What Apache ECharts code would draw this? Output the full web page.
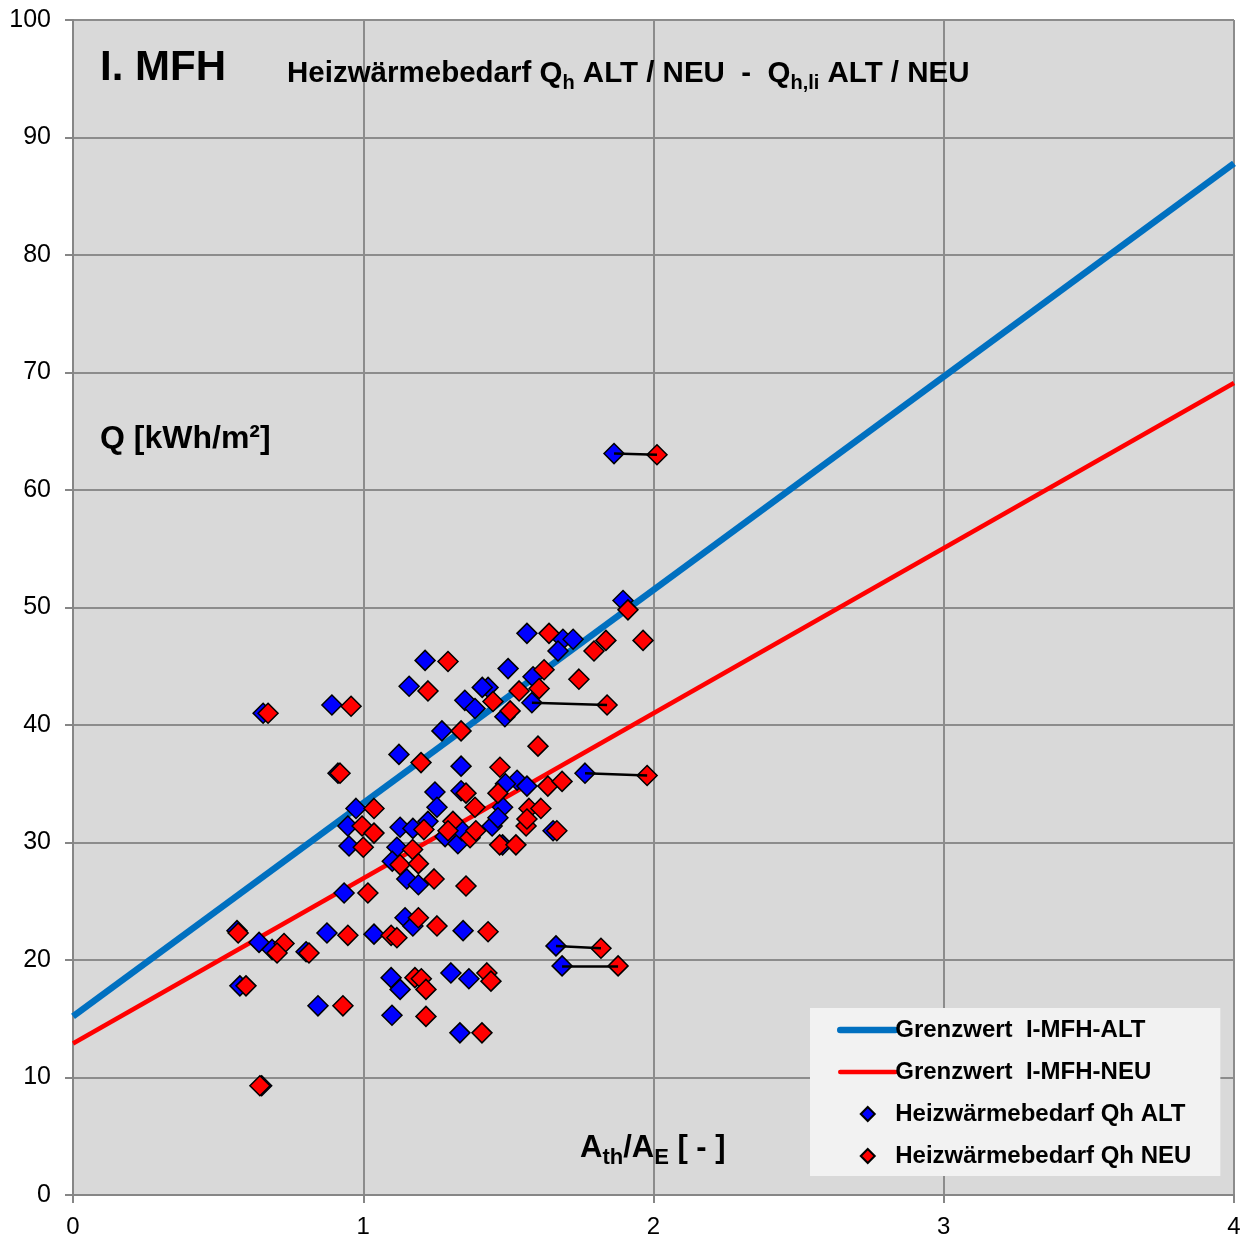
<!DOCTYPE html>
<html>
<head>
<meta charset="utf-8">
<script src="https://cdn.jsdelivr.net/npm/echarts@6/dist/echarts.min.js"></script>
<style>
html,body{margin:0;padding:0;background:#fff;}
#chart{width:1245px;height:1239px;}
</style>
</head>
<body>
<div id="chart"></div>
<script>
// Axis ticks
const xTicks = [0, 1, 2, 3, 4];
const yTicks = [0, 10, 20, 30, 40, 50, 60, 70, 80, 90, 100];

// Limit lines (Grenzwert) endpoints at x = 0 and x = 4
const grenzAlt = [[0, 15.2], [4, 87.8]];
const grenzNeu = [[0, 12.9], [4, 69.1]];

// Heizwärmebedarf Qh ALT  [A/V, Q]
const qhAlt = [
  [0.655,41.0],[0.892,41.7],[1.213,45.5],[1.158,43.3],[1.271,39.5],[1.123,37.5],
  [0.913,35.9],[0.975,32.9],[1.247,34.3],[1.254,33.0],[0.947,31.4],[1.127,31.3],
  [1.171,31.2],[1.223,31.8],[0.951,29.7],[1.116,29.6],[1.100,28.4],[1.150,26.9],
  [1.190,26.4],[0.934,25.7],[1.144,23.6],[1.171,22.9],[0.565,22.5],[0.875,22.3],
  [1.037,22.2],[0.641,21.5],[0.686,20.9],[0.803,20.7],[0.575,17.8],[0.844,16.1],
  [1.096,18.5],[1.127,17.5],[1.099,15.3],[1.333,13.8],[0.650,9.3],[1.302,18.9],
  [1.364,18.4],[1.344,22.5],[1.664,21.2],[1.685,19.5],[1.480,33.0],[1.444,31.4],
  [1.282,30.5],[1.326,29.9],[1.480,29.8],[1.654,31.0],[1.895,50.6],[1.564,47.8],
  [1.688,47.3],[1.723,47.3],[1.671,46.3],[1.499,44.8],[1.585,44.1],[1.430,43.2],
  [1.410,43.2],[1.350,42.1],[1.385,41.4],[1.581,41.9],[1.488,40.7],[1.337,36.5],
  [1.764,35.9],[1.530,35.3],[1.490,35.0],[1.564,34.8],[1.864,63.1],[1.340,31.0],
  [1.464,32.1],[1.337,34.4]
];

// Heizwärmebedarf Qh NEU  [A/V, Q]
const qhNeu = [
  [0.672,41.0],[0.958,41.6],[1.292,45.4],[1.223,42.9],[1.337,39.5],[1.199,36.8],
  [0.920,35.9],[1.037,32.9],[1.354,34.2],[0.996,31.4],[1.037,30.8],[1.209,31.1],
  [1.000,29.6],[1.170,29.4],[1.127,28.1],[1.190,28.2],[1.244,26.9],[1.016,25.7],
  [1.190,23.6],[1.254,22.9],[0.569,22.3],[0.947,22.1],[1.096,22.1],[1.116,21.9],
  [0.727,21.4],[0.703,20.6],[0.813,20.6],[0.596,17.8],[0.930,16.1],[1.178,18.5],
  [1.200,18.4],[1.216,17.5],[1.216,15.2],[1.409,13.8],[0.644,9.3],[1.426,18.9],
  [1.440,18.2],[1.354,26.3],[1.430,22.4],[1.819,21.0],[1.878,19.5],[1.385,33.0],
  [1.309,31.8],[1.292,31.0],[1.368,30.4],[1.388,31.0],[1.470,29.8],[1.526,29.8],
  [1.571,32.9],[1.612,32.9],[1.561,31.4],[1.667,31.0],[1.464,34.2],[1.912,49.8],
  [1.640,47.8],[1.836,47.2],[1.964,47.2],[1.795,46.3],[1.623,44.7],[1.743,43.9],
  [1.606,43.1],[1.537,42.9],[1.447,42.0],[1.840,41.7],[1.506,41.2],[1.602,38.2],
  [1.471,36.4],[1.978,35.7],[1.636,34.8],[1.685,35.2],[2.012,63.0],[1.564,32.0]
];

// Connected ALT -> NEU pairs
const pairs = [
  [[1.864,63.1],[2.012,63.0]],
  [[1.581,41.9],[1.840,41.7]],
  [[1.764,35.9],[1.978,35.7]],
  [[1.664,21.2],[1.819,21.0]],
  [[1.685,19.5],[1.878,19.5]]
];

const legendNames = ['Grenzwert  I-MFH-ALT','Grenzwert  I-MFH-NEU','Heizwärmebedarf Qh ALT','Heizwärmebedarf Qh NEU'];

const FONT = '"Liberation Sans", Arial, sans-serif';
const DIAMOND = 'path://M0,-1L1,0L0,1L-1,0Z';
const chart = echarts.init(document.getElementById('chart'), null, {renderer:'canvas'});

chart.setOption({
  backgroundColor: '#ffffff',
  animation: false,
  grid: {left: 73, right: 11, top: 20, bottom: 40, show: true, backgroundColor: '#D9D9D9', borderWidth: 0},
  xAxis: {
    type: 'value', min: xTicks[0], max: xTicks[xTicks.length-1], interval: 1,
    axisLine: {show: true, lineStyle: {color: '#868686', width: 2}},
    axisTick: {show: true, length: 8, lineStyle: {color: '#868686', width: 2}},
    axisLabel: {color: '#000', fontSize: 24, fontFamily: FONT, margin: 20},
    splitLine: {show: true, lineStyle: {color: '#8C8C8C', width: 2}}
  },
  yAxis: {
    type: 'value', min: yTicks[0], max: yTicks[yTicks.length-1], interval: 10,
    axisLine: {show: true, lineStyle: {color: '#868686', width: 2}},
    axisTick: {show: true, length: 8, lineStyle: {color: '#868686', width: 2}},
    axisLabel: {color: '#000', fontSize: 25, fontFamily: FONT, margin: 22},
    splitLine: {show: true, lineStyle: {color: '#8C8C8C', width: 2}}
  },
  legend: {
    orient: 'vertical', left: 810, top: 1008,
    backgroundColor: '#F2F2F2', padding: [10, 29, 8, 27],
    itemWidth: 55, itemHeight: 14, itemGap: 18,
    symbolKeepAspect: true,
    textStyle: {fontFamily: FONT, fontWeight: 'bold', fontSize: 24, color: '#000', padding: [0,0,0,-5]},
    data: [
      {name: legendNames[0], itemStyle: {opacity: 0}, lineStyle: {width: 6.5, color: '#0070C0', cap: 'round'}},
      {name: legendNames[1], itemStyle: {opacity: 0}, lineStyle: {width: 4.5, color: '#FF0000', cap: 'round'}},
      {name: legendNames[2], icon: DIAMOND},
      {name: legendNames[3], icon: DIAMOND}
    ]
  },
  graphic: [
    {type: 'text', left: 100, top: 47, z: 100,
     style: {text: 'I. MFH', fontFamily: FONT, fontWeight: 'bold', fontSize: 42, fill: '#000'}},
    {type: 'text', left: 287, top: 59, z: 100,
     style: {
       text: '{b|Heizwärmebedarf Q}{s|h}{b| ALT / NEU  -  Q}{s|h,li}{b| ALT / NEU}',
       fill: '#000',
       rich: {
         b: {fontFamily: FONT, fontWeight: 'bold', fontSize: 29.5, lineHeight: 35, fill: '#000', verticalAlign: 'top'},
         s: {fontFamily: FONT, fontWeight: 'bold', fontSize: 20, lineHeight: 35, fill: '#000', verticalAlign: 'top', padding: [14,0,0,0]}
       }
     }},
    {type: 'text', left: 100, top: 423, z: 100,
     style: {text: 'Q [kWh/m²]', fontFamily: FONT, fontWeight: 'bold', fontSize: 32, fill: '#000'}},
    {type: 'text', left: 580, top: 1133, z: 100,
     style: {
       text: '{b|A}{s|th}{b|/A}{s|E}{b| [ - ]}',
       fill: '#000',
       rich: {
         b: {fontFamily: FONT, fontWeight: 'bold', fontSize: 31, lineHeight: 37, fill: '#000', verticalAlign: 'top'},
         s: {fontFamily: FONT, fontWeight: 'bold', fontSize: 22, lineHeight: 37, fill: '#000', verticalAlign: 'top', padding: [14,0,0,0]}
       }
     }}
  ],
  series: [
    {name: legendNames[0], type: 'line', data: grenzAlt, symbol: 'none', z: 2,
     lineStyle: {color: '#0070C0', width: 6.5}, itemStyle: {color: '#0070C0'}},
    {name: legendNames[1], type: 'line', data: grenzNeu, symbol: 'none', z: 2,
     lineStyle: {color: '#FF0000', width: 4.5}, itemStyle: {color: '#FF0000'}},
    {name: legendNames[2], type: 'scatter', data: qhAlt, symbol: 'diamond', symbolSize: 20, z: 3,
     itemStyle: {color: '#0000FF', borderColor: '#000', borderWidth: 1.5, opacity: 1}},
    {name: legendNames[3], type: 'scatter', data: qhNeu, symbol: 'diamond', symbolSize: 20, z: 4,
     itemStyle: {color: '#FF0000', borderColor: '#000', borderWidth: 1.5, opacity: 1}},
    {type: 'lines', coordinateSystem: 'cartesian2d', z: 5, silent: true,
     data: pairs.map(p => ({coords: p})),
     lineStyle: {color: '#000', width: 2.5, opacity: 1}}
  ]
});
</script>
</body>
</html>
